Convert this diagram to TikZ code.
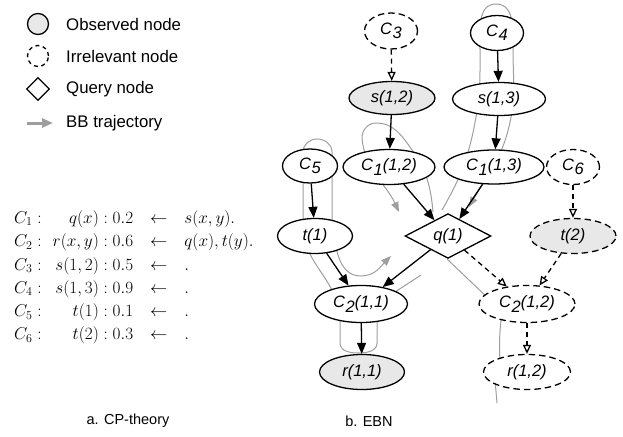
\RequirePackage{fix-cm}
\documentclass[tikz,border=0pt]{standalone}
\usepackage[no-math]{fontspec}
\newfontfamily\helv{Liberation Sans}
\usetikzlibrary{positioning,shapes.geometric,arrows.meta}
\definecolor{obsgray}{RGB}{232,232,232}
\definecolor{trajgray}{RGB}{158,158,158}
\newcommand{\Cs}[1]{C\kern0.6pt\raisebox{-0.5ex}{#1}}

\begin{document}
\begin{tikzpicture}[x=1pt, y=-1pt, every node/.style={font=\helv\fontsize{16.8}{19}\selectfont}]
            \tikzstyle{plain}=[ellipse, draw, fill=white, line width=1.3pt, inner sep=0pt, minimum height=35pt, font=\helv\itshape\fontsize{16.5}{19}\selectfont]
            \tikzstyle{observed}=[plain, fill=obsgray]
            \tikzstyle{irrelevant}=[plain, dash pattern=on 6.5pt off 4pt]
            \tikzstyle{query}=[diamond, draw, fill=white, line width=1.3pt, inner sep=0pt, minimum width=86pt, minimum height=35pt, font=\helv\itshape\fontsize{16.5}{19}\selectfont]
            \tikzstyle{arc}=[line width=1.3pt, -{Triangle[length=11pt,width=9pt]}]
            \tikzstyle{irrarc}=[line width=1.3pt, dash pattern=on 5pt off 4pt, -{Triangle[open,length=9pt,width=8pt]}]
            \tikzstyle{traj}=[trajgray, line width=1pt]
            \tikzstyle{trajarrow}=[traj, -{Triangle[length=10pt,width=7.5pt]}]
            \tikzstyle{caption}=[font=\helv\fontsize{14.5}{17}\selectfont]

            \useasboundingbox (0,0) rectangle (623,436);

            \node[circle, draw, fill=obsgray, line width=1.3pt, minimum size=21pt, inner sep=0pt] (lobs) at (38,24) {};
            \node[circle, draw, dash pattern=on 4pt off 3.5pt, line width=1.3pt, minimum size=21pt, inner sep=0pt] (lirr) at (38,56) {};
            \node[diamond, draw, line width=1.3pt, minimum size=23pt, inner sep=0pt] (lqry) at (38,89) {};
            \coordinate (ltr0) at (27,123);
            \coordinate (ltr1) at (53,123);
            \draw[trajgray, line width=3pt, -{Triangle[length=11pt,width=9pt]}] (ltr0) -- (ltr1);
            \node[anchor=west, inner sep=0pt] (tobs) at (66,24) {Observed node};
            \node[anchor=west, inner sep=0pt] (tirr) at (66,56) {Irrelevant node};
            \node[anchor=west, inner sep=0pt] (tqry) at (66,89) {Query node};
            \node[anchor=west, inner sep=0pt] (ttr) at (66,123) {BB trajectory};

            \node[anchor=west, inner sep=0pt, font=\fontsize{17.2}{23.3}\selectfont] (cpt) at (14,277) {$\begin{array}{@{}l@{\hspace{11pt}}r@{\hspace{17pt}}c@{\hspace{17pt}}l@{}}
                C_1: & q(x) : 0.2 & \leftarrow & s(x,y). \\
                C_2: & r(x,y) : 0.6 & \leftarrow & q(x), t(y). \\
                C_3: & s(1,2) : 0.5 & \leftarrow & . \\
                C_4: & s(1,3) : 0.9 & \leftarrow & . \\
                C_5: & t(1) : 0.1 & \leftarrow & . \\
                C_6: & t(2) : 0.3 & \leftarrow & .
            \end{array}$};

            \draw[trajarrow] (433,212) to[out=95,in=-55] (412,150) to[out=125,in=0] (376,123) to[out=180,in=90] (362,138) to[out=-85,in=115] (399,212);
            \draw[trajarrow] (442,210) to[out=60,in=-100] (476,117) to[out=80,in=-90] (480,50) to[out=90,in=180] (496,4) to[out=0,in=90] (513,50) to[out=-90,in=80] (511,117) to[out=-100,in=60] (469,207);
            \draw[trajarrow] (335,296) to[out=115,in=-90] (303,225) -- (303,152) to[out=90,in=180] (317,139) to[out=0,in=90] (332,152) -- (332,225) to[out=-80,in=180] (361,276) to[out=0,in=-135] (391,256);
            \draw[traj] (340,310) -- (340,343) to[out=-90,in=180] (358,353) to[out=0,in=-90] (377,343) -- (377,310);
            \draw[traj] (392,294) -- (421,275);
            \draw[traj] (447,259) -- (490,300);
            \draw[traj] (502,312) to[bend right=5] (500,362);
            \draw[traj] (495,380) -- (497,403);

            \node[irrelevant, minimum width=53pt, minimum height=36pt] (C3) at (391,31) {\Cs{3}};
            \node[observed, minimum width=86pt, minimum height=33pt] (s12) at (392,98) {s(1,2)};
            \node[plain, minimum width=92pt] (C112) at (389,167) {\Cs{1}(1,2)};
            \node[plain, minimum width=55pt, minimum height=34pt] (C5) at (310,166) {\Cs{5}};
            \node[plain, minimum width=53pt] (C4) at (497,33) {\Cs{4}};
            \node[plain, minimum width=93pt, minimum height=33pt] (s13) at (499,99) {s(1,3)};
            \node[plain, minimum width=100pt, minimum height=34pt] (C113) at (494,167) {\Cs{1}(1,3)};
            \node[irrelevant, minimum width=53pt] (C6) at (573,167) {\Cs{6}};
            \node[irrelevant, fill=obsgray, minimum width=86pt] (t2) at (573,236) {t(2)};
            \node[query] (q1) at (448,236) {q(1)};
            \node[plain, minimum width=75pt] (t1) at (315,236) {t(1)};
            \node[plain, minimum width=93pt, minimum height=37pt] (C211) at (361,304) {\Cs{2}(1,1)};
            \node[observed, minimum width=85pt] (r11) at (362,372) {r(1,1)};
            \node[irrelevant, minimum width=96pt, minimum height=37pt] (C212) at (527,304) {\Cs{2}(1,2)};
            \node[irrelevant, minimum width=87pt] (r12) at (527,372) {r(1,2)};

            \draw[irrarc] (C3) -- (s12);
            \draw[arc] (C4) -- (s13);
            \draw[arc] (s12) -- (C112);
            \draw[arc] (s13) -- (C113);
            \draw[arc] (C5) -- (t1);
            \draw[arc] (C112) -- (q1);
            \draw[arc] (C113) -- (q1);
            \draw[arc] (t1) -- (C211);
            \draw[arc] (q1) -- (C211);
            \draw[arc] (C211) -- (r11);
            \draw[irrarc] (C6) -- (t2);
            \draw[irrarc] (q1) -- (C212);
            \draw[irrarc] (t2) -- (C212);
            \draw[irrarc] (C212) -- (r12);

            \node[caption] (capa) at (128,421) {a. CP-theory};
            \node[caption] (capb) at (369,421) {b. EBN};
        \end{tikzpicture}
\end{document}
